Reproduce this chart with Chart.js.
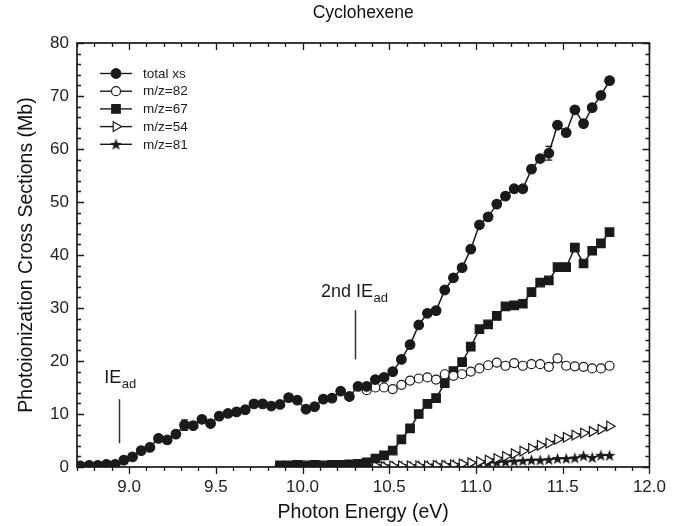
<!DOCTYPE html>
<html><head><meta charset="utf-8">
<script src="https://cdn.jsdelivr.net/npm/chart.js@4.4.1/dist/chart.umd.min.js"></script>
<style>html,body{margin:0;padding:0;background:#fff}#wrap{width:676px;height:526px}</style>
</head><body><div id="wrap"><canvas id="c" width="676" height="526"></canvas></div>
<script>
// ---------------- data ----------------
const totalEnergy = [8.72,8.77,8.82,8.87,8.92,8.97,9.02,9.07,9.12,9.17,9.22,9.27,9.32,9.37,9.42,9.47,9.52,9.57,9.62,9.67,9.72,9.77,9.82,9.87,9.92,9.97,10.02,10.07,10.12,10.17,10.22,10.27,10.32,10.37,10.42,10.47,10.52,10.57,10.62,10.67,10.72,10.77,10.82,10.87,10.92,10.97,11.02,11.07,11.12,11.17,11.22,11.27,11.32,11.37,11.42,11.47,11.52,11.57,11.62,11.67,11.72,11.77];
const totalXs = [0.2,0.3,0.3,0.5,0.5,1.3,1.9,3.1,3.7,5.4,5.1,6.2,7.9,7.8,9.0,8.2,9.6,10.1,10.4,10.8,11.9,11.9,11.5,11.8,13.1,12.6,10.9,11.4,12.8,13.0,14.3,13.3,15.2,15.2,16.5,16.9,18.0,20.3,23.1,26.8,29.0,29.5,33.4,35.7,37.6,41.1,45.7,47.2,49.6,51.1,52.5,52.5,56.2,58.2,59.2,64.5,63.1,67.4,64.8,67.8,70.1,72.9];
const fragEnergy = [9.87,9.92,9.97,10.02,10.07,10.12,10.17,10.22,10.27,10.32,10.37,10.42,10.47,10.52,10.57,10.62,10.67,10.72,10.77,10.82,10.87,10.92,10.97,11.02,11.07,11.12,11.17,11.22,11.27,11.32,11.37,11.42,11.47,11.52,11.57,11.62,11.67,11.72,11.77];
const mz82Energy = [10.37,10.42,10.47,10.52,10.57,10.62,10.67,10.72,10.77,10.82,10.87,10.92,10.97,11.02,11.07,11.12,11.17,11.22,11.27,11.32,11.37,11.42,11.47,11.52,11.57,11.62,11.67,11.72,11.77];
const mz82 = [14.5,15.0,15.0,14.7,15.5,16.3,16.7,16.9,16.5,17.5,17.2,17.5,18.0,18.6,19.2,19.7,19.1,19.6,19.1,19.4,19.4,18.9,20.5,19.1,19.0,18.9,18.6,18.6,19.1];
const mz67 = [0.3,0.3,0.4,0.3,0.4,0.3,0.4,0.4,0.5,0.6,0.9,1.6,2.2,3.1,5.2,7.3,10.0,11.9,13.0,15.8,18.1,19.8,22.7,26.0,26.9,28.5,30.3,30.5,30.8,33.0,34.8,35.2,37.7,37.7,41.4,38.4,40.8,42.2,44.3];
const mz54 = [0.1,0.1,0.1,0.0,0.1,0.1,0.1,0.1,0.2,0.1,0.1,0.2,0.1,0.2,0.2,0.2,0.2,0.2,0.3,0.3,0.4,0.6,0.8,1.0,1.3,1.6,2.0,2.5,3.0,3.5,4.1,4.5,5.2,5.6,6.0,6.4,6.7,7.1,7.7];
const mz81 = [0.1,0.1,0.1,0.1,0.1,0.1,0.1,0.1,0.2,0.1,0.2,0.2,0.2,0.2,0.2,0.2,0.3,0.3,0.4,0.4,0.5,0.5,0.6,0.7,0.8,0.9,1.0,1.1,1.2,1.3,1.3,1.4,1.6,1.6,1.7,2.1,1.8,2.2,2.2];
const totalErrEnergy = [9.32, 11.42];
const totalErrValue = [7.9, 59.2];
const totalErrSize = [1.0, 1.3];
const seriesLabels = ['total xs','m/z=82','m/z=67','m/z=54','m/z=81'];
const xTickValues = [9.0,9.5,10.0,10.5,11.0,11.5,12.0];
const yTickValues = [0,10,20,30,40,50,60,70,80];
const ieEnergy = [8.94, 10.30];
const ieLineFrom = [4.5, 20.3];
const ieLineTo = [12.8, 29.6];
const ieLabelMain = ['IE', '2nd IE'];
const ieLabelSub = ['ad', 'ad'];
const ieLabelEnergy = [8.857, 10.107];
const ieLabelValue = [15.8, 32.1];

// ---------------- helpers ----------------
const FONT = "'Liberation Sans', Arial, Helvetica, sans-serif";
const INK = '#1a1a1a';
function pts(xs, ys){ return xs.map((x,i)=>({x:x, y:ys[i]})); }

function makeStar(){
  const c = document.createElement('canvas');
  c.width = 13; c.height = 13;
  const g = c.getContext('2d');
  g.fillStyle = INK;
  g.beginPath();
  for (let k=0;k<10;k++){
    const r = (k%2===0)?6.2:2.6;
    const a = -Math.PI/2 + k*Math.PI/5;
    const px = 6.5 + r*Math.cos(a), py = 7 + r*Math.sin(a);
    if (k===0) g.moveTo(px,py); else g.lineTo(px,py);
  }
  g.closePath(); g.fill();
  return c;
}
const starImg = makeStar();

const common = { borderColor: INK, borderWidth: 1.5, tension: 0, fill: false, pointBorderColor: INK, pointBorderWidth: 1.2 };
const datasets = [
  Object.assign({}, common, { label: seriesLabels[0], data: pts(totalEnergy, totalXs), pointStyle:'circle', pointRadius:4.8, pointBackgroundColor: INK }),
  Object.assign({}, common, { label: seriesLabels[1], data: pts(mz82Energy, mz82), pointStyle:'circle', pointRadius:4.5, pointBackgroundColor:'#fff' }),
  Object.assign({}, common, { label: seriesLabels[2], data: pts(fragEnergy, mz67), pointStyle:'rect', pointRadius:6.0, pointBackgroundColor: INK }),
  Object.assign({}, common, { label: seriesLabels[3], data: pts(fragEnergy, mz54), pointStyle:'triangle', pointRotation:90, pointRadius:5.6, pointBackgroundColor:'#fff' }),
  Object.assign({}, common, { label: seriesLabels[4], data: pts(fragEnergy, mz81), pointStyle: starImg, pointRadius:5, pointBackgroundColor: INK }),
];

function drawMarker(ctx, ds, x, y){
  const st = ds.pointStyle;
  ctx.save();
  ctx.lineWidth = 1.2; ctx.strokeStyle = INK; ctx.fillStyle = ds.pointBackgroundColor;
  if (st === 'circle'){
    ctx.beginPath(); ctx.arc(x,y,ds.pointRadius,0,Math.PI*2); ctx.fill(); ctx.stroke();
  } else if (st === 'rect'){
    const s = ds.pointRadius*Math.SQRT1_2;
    ctx.beginPath(); ctx.rect(x-s,y-s,2*s,2*s); ctx.fill(); ctx.stroke();
  } else if (st === 'triangle'){
    const r = ds.pointRadius;
    ctx.beginPath();
    for (let k=0;k<3;k++){ const a = k*2*Math.PI/3; const px = x + r*Math.cos(a), py = y + r*Math.sin(a); if(k===0) ctx.moveTo(px,py); else ctx.lineTo(px,py); }
    ctx.closePath(); ctx.fill(); ctx.stroke();
  } else {
    ctx.drawImage(st, x - st.width/2, y - st.height/2);
  }
  ctx.restore();
}

const decor = {
  id: 'decor',
  afterDatasetsDraw(chart){
    const ctx = chart.ctx, xs = chart.scales.x, ys = chart.scales.y;
    ctx.save();
    // error bars
    ctx.strokeStyle = INK; ctx.lineWidth = 1.2;
    totalErrEnergy.forEach((e,i)=>{
      const px = xs.getPixelForValue(e);
      const y1 = ys.getPixelForValue(totalErrValue[i]-totalErrSize[i]);
      const y2 = ys.getPixelForValue(totalErrValue[i]+totalErrSize[i]);
      ctx.beginPath();
      ctx.moveTo(px,y1); ctx.lineTo(px,y2);
      ctx.moveTo(px-3.5,y1); ctx.lineTo(px+3.5,y1);
      ctx.moveTo(px-3.5,y2); ctx.lineTo(px+3.5,y2);
      ctx.stroke();
    });
    // IE markers
    ctx.strokeStyle = '#333'; ctx.lineWidth = 1.5;
    ieEnergy.forEach((e,i)=>{
      const px = Math.round(xs.getPixelForValue(e))+0.5;
      ctx.beginPath();
      ctx.moveTo(px, ys.getPixelForValue(ieLineFrom[i]));
      ctx.lineTo(px, ys.getPixelForValue(ieLineTo[i]));
      ctx.stroke();
      const lx = xs.getPixelForValue(ieLabelEnergy[i]);
      const ly = ys.getPixelForValue(ieLabelValue[i]);
      ctx.fillStyle = INK; ctx.textBaseline = 'alphabetic'; ctx.textAlign = 'left';
      ctx.font = '18px ' + FONT;
      ctx.fillText(ieLabelMain[i], lx, ly);
      const w = ctx.measureText(ieLabelMain[i]).width;
      ctx.font = '13px ' + FONT;
      ctx.fillText(ieLabelSub[i], lx + w + 0.5, ly + 5);
    });
    ctx.restore();
  },
  afterDraw(chart){
    const ctx = chart.ctx, a = chart.chartArea, xs = chart.scales.x, ys = chart.scales.y;
    ctx.save();
    ctx.strokeStyle = INK; ctx.lineWidth = 1.7;
    ctx.strokeRect(a.left, a.top, a.right - a.left, a.bottom - a.top);
    ctx.lineWidth = 1.3;
    ctx.beginPath();
    // x ticks (bottom outward, top inward)
    for (let k = 87; k <= 120; k++){
      const v = k/10;
      const px = Math.round(xs.getPixelForValue(v)) + 0.5;
      const major = (k % 5 === 0);
      const L = major ? 7 : 4;
      ctx.moveTo(px, a.bottom); ctx.lineTo(px, a.bottom + L);
      ctx.moveTo(px, a.top); ctx.lineTo(px, a.top + L);
    }
    // y ticks (both inward)
    for (let v = 0; v <= 80; v += 2){
      const py = Math.round(ys.getPixelForValue(v)) + 0.5;
      const major = (v % 10 === 0);
      const L = major ? 7 : 4;
      ctx.moveTo(a.left, py); ctx.lineTo(a.left + L, py);
      ctx.moveTo(a.right, py); ctx.lineTo(a.right - L, py);
    }
    ctx.stroke();
    // legend
    const ds = chart.data.datasets;
    ctx.font = '13.5px ' + FONT; ctx.fillStyle = INK; ctx.textBaseline = 'middle'; ctx.textAlign = 'left';
    ds.forEach((d,i)=>{
      const y = 73.5 + i*17.7;
      ctx.strokeStyle = INK; ctx.lineWidth = 1.4;
      ctx.beginPath(); ctx.moveTo(100, y); ctx.lineTo(132, y); ctx.stroke();
      drawMarker(ctx, d, 116, y);
      ctx.fillStyle = INK;
      ctx.fillText(d.label, 143, y + 0.5);
    });
    ctx.restore();
  }
};

new Chart(document.getElementById('c'), {
  type: 'line',
  data: { datasets: datasets },
  options: {
    responsive: false, animation: false, devicePixelRatio: 1,
    layout: { padding: { left: 0, right: 23, top: 0, bottom: 0 } },
    plugins: {
      legend: { display: false }, tooltip: { enabled: false },
      title: { display: true, fullSize: false, text: 'Cyclohexene', color: '#111', font: { family: FONT, size: 17.5, weight: 'normal' }, padding: { top: 3, bottom: 19 } }
    },
    scales: {
      x: {
        type: 'linear', min: 8.7, max: 12.0,
        afterBuildTicks: s => { s.ticks = xTickValues.map(v => ({ value: v })); },
        afterFit: s => { s.height = 59; },
        grid: { display: false, drawTicks: false }, border: { display: false },
        ticks: { padding: 10, color: '#222', autoSkip: false, maxRotation: 0, font: { family: FONT, size: 17 }, callback: v => Number(v).toFixed(1) },
        title: { display: true, text: 'Photon Energy (eV)', color: '#111', font: { family: FONT, size: 19.5 }, padding: { top: 0, bottom: 2 } }
      },
      y: {
        type: 'linear', min: 0, max: 80,
        afterBuildTicks: s => { s.ticks = yTickValues.map(v => ({ value: v })); },
        afterFit: s => { s.width = 77; },
        grid: { display: false, drawTicks: false }, border: { display: false },
        ticks: { padding: 8, color: '#222', font: { family: FONT, size: 17 }, callback: v => String(v) },
        title: { display: true, text: 'Photoionization Cross Sections (Mb)', color: '#111', font: { family: FONT, size: 19.5 }, padding: { top: 15, bottom: 0 } }
      }
    }
  },
  plugins: [decor]
});
</script>
</body></html>
